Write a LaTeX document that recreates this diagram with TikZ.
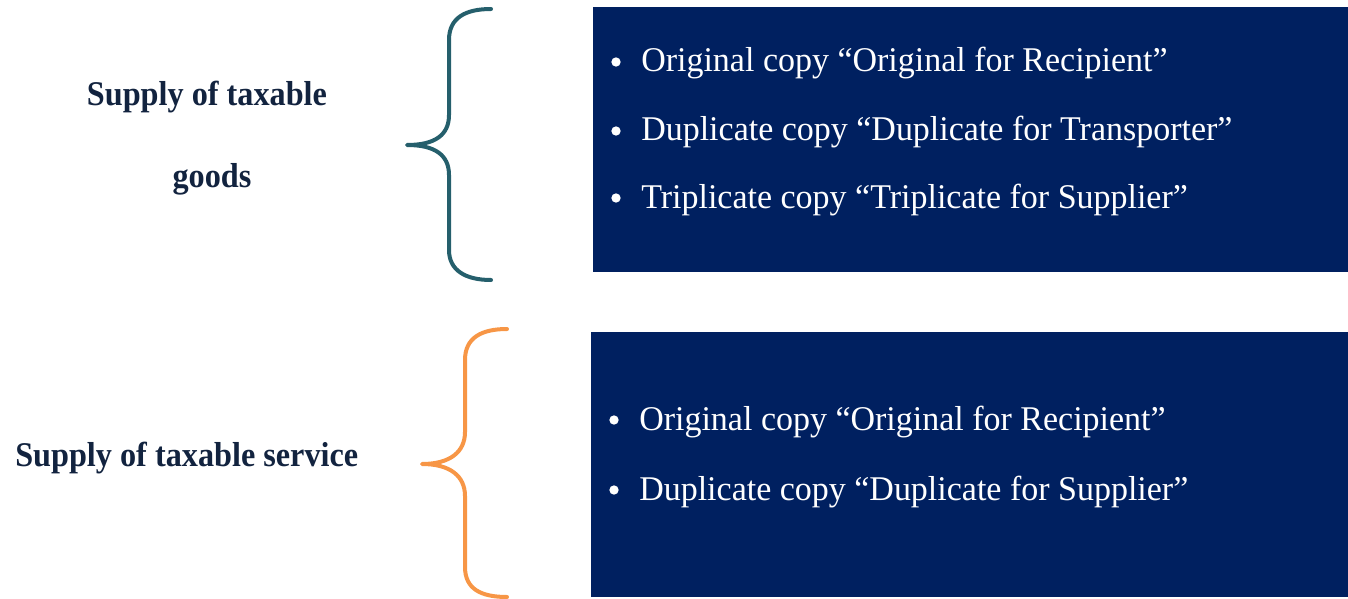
\documentclass[tikz,border=0pt]{standalone}
\usepackage{fontspec}
\setmainfont{Liberation Serif}
\newfontfamily\bodyfont[FakeStretch=0.98]{Liberation Serif}
\newfontfamily\labelfont[FakeStretch=0.93]{Liberation Serif}
\definecolor{boxblue}{HTML}{002060}
\definecolor{labelnavy}{HTML}{12233F}
\definecolor{teal}{HTML}{255F6C}
\definecolor{orng}{HTML}{F79646}
\begin{document}
\begin{tikzpicture}[x=0.75pt,y=-0.75pt,
  panel/.style={fill=boxblue, draw=none},
  item/.style={anchor=base west, text=white, font=\bodyfont\fontsize{26}{30}\selectfont, inner sep=0},
  dot/.style={circle, fill=white, inner sep=0, minimum size=7pt},
  label/.style={anchor=base, text=labelnavy, font=\labelfont\bfseries\fontsize{26}{30}\selectfont, inner sep=0},
  brace/.style={line width=3pt, line cap=round, line join=round}]
\useasboundingbox (0,0) rectangle (1348,599);
% panels
\fill[panel] (593,7) rectangle (1348,272);
\fill[panel] (591,332) rectangle (1348,597);
% left labels
\node[label] (g1) at (207,106) {Supply of taxable};
\node[label] (g2) at (212,187) {goods};
\node[label,anchor=base west] (s1) at (15,466) {Supply of taxable service};
% braces
\draw[brace, teal] (491,9) .. controls (465,9) and (449,18) .. (449,40)
  -- (449,115) .. controls (449,135) and (435,145) .. (407,145)
  .. controls (435,145) and (449,155) .. (449,175)
  -- (449,250) .. controls (449,270) and (465,280) .. (491,280);
\draw[brace, orng] (507,329) .. controls (481,329) and (465,338) .. (465,360)
  -- (465,432) .. controls (465,452) and (450,464) .. (422,464)
  .. controls (450,464) and (465,476) .. (465,496)
  -- (465,567) .. controls (465,589) and (481,597) .. (507,597);
% items top
\node[dot] (b1) at (616,62) {};
\node[item] (t1) at (641,72) {Original copy “Original for Recipient”};
\node[dot] (b2) at (616,131) {};
\node[item] (t2) at (641,141) {Duplicate copy “Duplicate for Transporter”};
\node[dot] (b3) at (616,198) {};
\node[item] (t3) at (641,208) {Triplicate copy “Triplicate for Supplier”};
% items bottom
\node[dot] (b4) at (614,420) {};
\node[item] (t4) at (639,430) {Original copy “Original for Recipient”};
\node[dot] (b5) at (614,490) {};
\node[item] (t5) at (639,500) {Duplicate copy “Duplicate for Supplier”};
\end{tikzpicture}
\end{document}
